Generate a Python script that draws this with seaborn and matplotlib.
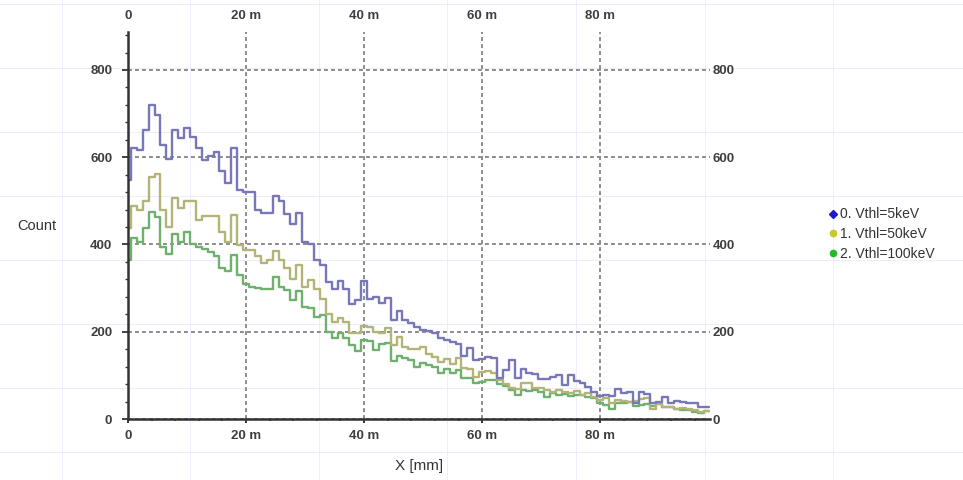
import numpy as np
import pandas as pd
import matplotlib
matplotlib.use("Agg")
import matplotlib.pyplot as plt
import seaborn as sns
from matplotlib.ticker import MultipleLocator
from matplotlib.lines import Line2D

# ---------------- data (counts per 1 mm bin, bins centred on 0..98 mm) ----------------
blue_counts = [
    547, 620, 616, 662, 719, 696, 627, 597, 662, 643,
    666, 647, 622, 593, 602, 611, 568, 540, 620, 524,
    521, 520, 479, 473, 473, 512, 500, 471, 446, 473,
    406, 402, 364, 353, 314, 299, 317, 297, 263, 273,
    317, 276, 279, 266, 277, 227, 248, 227, 219, 211,
    205, 202, 196, 186, 182, 177, 173, 144, 162, 135,
    138, 143, 140, 93, 112, 135, 95, 114, 105, 102,
    91, 91, 96, 101, 78, 100, 88, 82, 74, 63,
    53, 55, 53, 68, 59, 61, 36, 61, 58, 36,
    40, 51, 36, 41, 40, 36, 36, 28, 28,
]
yellow_counts = [
    437, 488, 479, 499, 555, 561, 480, 441, 507, 483,
    499, 499, 456, 466, 466, 466, 429, 406, 467, 399,
    387, 387, 373, 358, 364, 386, 364, 347, 322, 353,
    303, 318, 299, 276, 240, 223, 231, 223, 196, 196,
    214, 211, 200, 198, 209, 169, 188, 166, 160, 160,
    164, 150, 141, 131, 137, 125, 139, 118, 115, 97,
    108, 111, 105, 89, 80, 72, 68, 83, 82, 72,
    70, 66, 63, 67, 63, 59, 65, 55, 59, 51,
    44, 48, 37, 44, 41, 40, 42, 45, 47, 24,
    34, 28, 28, 24, 26, 23, 21, 17, 19,
]
green_counts = [
    364, 415, 406, 438, 475, 463, 395, 379, 423, 406,
    429, 402, 395, 389, 383, 374, 345, 339, 376, 330,
    310, 303, 300, 299, 299, 326, 303, 295, 273, 294,
    257, 254, 234, 238, 200, 185, 198, 185, 169, 156,
    181, 179, 158, 172, 175, 134, 144, 139, 135, 120,
    128, 124, 120, 105, 114, 105, 112, 95, 93, 82,
    85, 89, 89, 80, 76, 66, 55, 66, 64, 66,
    63, 51, 59, 55, 57, 53, 55, 54, 51, 47,
    37, 32, 24, 37, 36, 40, 30, 32, 34, 30,
    36, 28, 27, 22, 21, 21, 17, 13, 19,
]
series_names = ["0. Vthl=5keV", "1. Vthl=50keV", "2. Vthl=100keV"]
x_ticks = [0, 20, 40, 60, 80]
x_tick_labels = ["0", "20 m", "40 m", "60 m", "80 m"]
y_ticks = [0, 200, 400, 600, 800]

# ---------------- style ----------------
line_colors = ["#7878b8", "#b4b478", "#6fb06f"]
marker_colors = ["#1c1cc8", "#c8c828", "#28b828"]
marker_shapes = ["D", "o", "o"]

sns.set_theme(style="white")
plt.rcParams["font.family"] = ["Liberation Sans", "DejaVu Sans"]

n = len(blue_counts)
x_centers = np.arange(n)
df = pd.DataFrame({
    "x": np.tile(x_centers, 3),
    "count": np.array(blue_counts + yellow_counts + green_counts, dtype=float),
    "series": np.repeat(series_names, n),
})

W, H = 963, 480
fig = plt.figure(figsize=(W / 100, H / 100), dpi=100)
fig.patch.set_facecolor("white")

# faint background grid over the whole canvas
for xp in [62, 190, 319, 447, 576, 705, 833]:
    fig.add_artist(Line2D([xp / W, xp / W], [0, 1], color="#eceefa", lw=0.7, zorder=0))
for yp in [4, 68, 132, 196, 260, 324, 388, 452]:
    fig.add_artist(Line2D([0, 1], [1 - yp / H, 1 - yp / H], color="#eceefa", lw=0.7, zorder=0))

ax = fig.add_axes([128 / W, (H - 419) / H, 582 / W, 387 / H])
ax.patch.set_alpha(0)

sns.histplot(data=df, x="x", weights="count", hue="series", hue_order=series_names,
             discrete=True, element="step", fill=False, palette=line_colors,
             linewidth=1.7, legend=False, ax=ax)

ax.set_xlim(0, 98.6)
ax.set_ylim(0, 887)

# grid
ax.set_axisbelow(True)
ax.grid(True, which="major", axis="both", color="#8c8c8c",
        linestyle=(0, (2.0, 1.6)), linewidth=1.4)

# spines
for s in ["top", "right"]:
    ax.spines[s].set_visible(False)
for s in ["left", "bottom"]:
    ax.spines[s].set_visible(True)
    ax.spines[s].set_color("#333333")
    ax.spines[s].set_linewidth(1.8)

tick_font = dict(fontsize=9.5, fontweight="bold", color="#3e3e3e")

ax.set_xticks(x_ticks)
ax.set_xticklabels(x_tick_labels, **tick_font)
ax.set_yticks(y_ticks)
ax.set_yticklabels([str(v) for v in y_ticks], **tick_font)
ax.xaxis.set_minor_locator(MultipleLocator(4))
ax.yaxis.set_minor_locator(MultipleLocator(40))
ax.tick_params(axis="x", which="major", bottom=True, top=False, direction="out",
               length=2.6, width=1.4, color="#333333", pad=5.5)
ax.tick_params(axis="x", which="minor", bottom=True, top=False, direction="out",
               length=1.6, width=1.2, color="#333333")
ax.tick_params(axis="y", which="major", left=True, right=False, direction="out",
               length=4.3, width=1.3, color="#333333", pad=7)
ax.tick_params(axis="y", which="minor", left=True, right=False, direction="out",
               length=2.5, width=1.0, color="#333333")

# secondary axes for labels on top and right
top = ax.secondary_xaxis("top")
top.set_xticks(x_ticks)
top.set_xticklabels(x_tick_labels, **tick_font)
top.tick_params(axis="x", length=0, pad=7.5)
for sp in top.spines.values():
    sp.set_visible(False)

right = ax.secondary_yaxis("right")
right.set_yticks(y_ticks)
right.set_yticklabels([str(v) for v in y_ticks], **tick_font)
right.tick_params(axis="y", length=0, pad=2)
for sp in right.spines.values():
    sp.set_visible(False)

# axis labels
ax.set_xlabel("X [mm]", fontsize=11, color="#333333", labelpad=12)
ax.set_ylabel("Count", fontsize=10.5, color="#333333", rotation=0, va="center", ha="center")
ax.yaxis.set_label_coords((37 - 128) / 582, 0.5)

# legend
handles = [Line2D([], [], linestyle="none", marker=m, markersize=4.5, markerfacecolor=c,
                  markeredgecolor=c) for m, c in zip(marker_shapes, marker_colors)]
leg = fig.legend(handles, series_names, loc="center left",
                 bbox_to_anchor=(824 / W, 1 - 234 / H), frameon=False,
                 fontsize=10, handlelength=0.5, handletextpad=0.25, labelspacing=0.4,
                 borderaxespad=0)
for t in leg.get_texts():
    t.set_color("#333333")

fig.savefig("out.png", dpi=100)
